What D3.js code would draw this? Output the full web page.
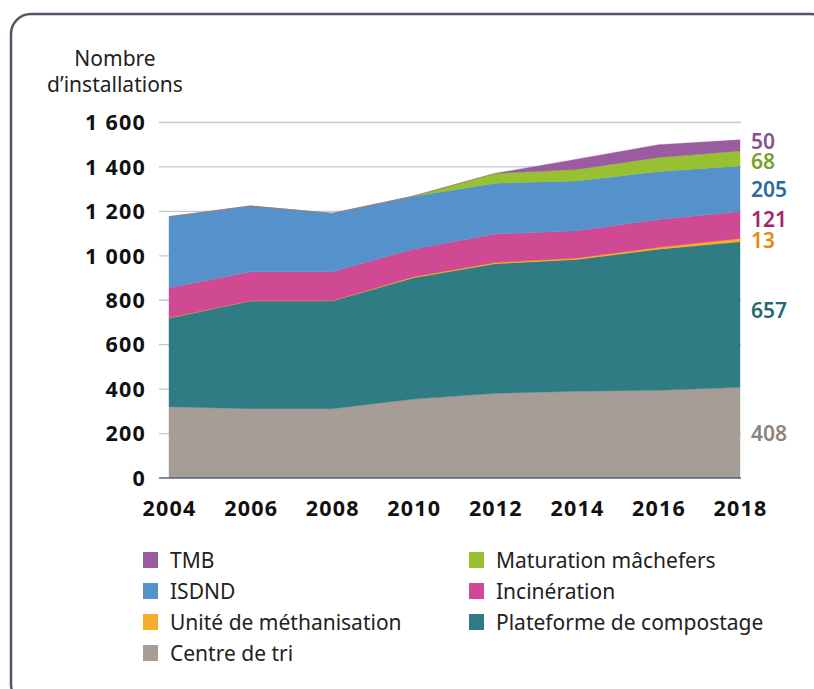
<!DOCTYPE html>
<html><head><meta charset="utf-8">
<script src="https://cdn.jsdelivr.net/npm/d3@7"></script>
<style>
body{margin:0;background:#fff;}
svg{display:block;font-family:"Noto Sans",sans-serif;}
</style></head>
<body><svg id="c" width="814" height="689"></svg>
<script>
const years = [2004, 2006, 2008, 2010, 2012, 2014, 2016, 2018];
const centreDeTri   = [321, 312, 312, 355, 381, 391, 395, 408];
const compostage    = [400, 486, 486, 548, 585, 594, 636, 657];
const methanisation = [0, 0, 0, 3, 4, 5, 7, 13];
const incineration  = [135, 130, 130, 125, 128, 123, 125, 121];
const isdnd         = [320, 296, 263, 237, 229, 224, 217, 205];
const maturation    = [0, 0, 0, 1, 44, 52, 63, 68];
const tmb           = [0, 0, 0, 0, 0, 46, 57, 50];
const yTicks = [0, 200, 400, 600, 800, 1000, 1200, 1400, 1600];
const yTickLabels = ["0", "200", "400", "600", "800", "1 000", "1 200", "1 400", "1 600"];

const series = [
  {key:"centre", name:"Centre de tri", values:centreDeTri, color:"#a69d97", label:"#8c847e"},
  {key:"compost", name:"Plateforme de compostage", values:compostage, color:"#2f7c84", label:"#1f6a70"},
  {key:"metha", name:"Unité de méthanisation", values:methanisation, color:"#f6ab2a", label:"#e8890f"},
  {key:"incin", name:"Incinération", values:incineration, color:"#cf4a93", label:"#a3256a"},
  {key:"isdnd", name:"ISDND", values:isdnd, color:"#5592cc", label:"#2a6aa0"},
  {key:"matur", name:"Maturation mâchefers", values:maturation, color:"#97c130", label:"#77a02a"},
  {key:"tmb", name:"TMB", values:tmb, color:"#9a5ba0", label:"#8e4e91"}
];

const rows = years.map((y,i)=>{const o={year:y}; series.forEach(s=>o[s.key]=s.values[i]); return o;});
const svg = d3.select("#c");

// frame
svg.append("rect").attr("x",11).attr("y",14).attr("width",820).attr("height",690)
  .attr("rx",20).attr("fill","none").attr("stroke","#4f5868").attr("stroke-width",2.5);

const x = d3.scaleLinear().domain([2004,2018]).range([169,740]);
const y = d3.scaleLinear().domain([0,1600]).range([478,122.5]);

// gridlines
svg.append("g").selectAll("line").data(yTicks.filter(d=>d>0)).join("line")
  .attr("x1",159).attr("x2",741).attr("y1",d=>y(d)).attr("y2",d=>y(d))
  .attr("stroke","#c3c8d2").attr("stroke-width",1.3);

const stack = d3.stack().keys(series.map(s=>s.key));
const stacked = stack(rows);
const area = d3.area().x(d=>x(d.data.year)).y0(d=>y(d[0])).y1(d=>y(d[1]));
svg.append("g").selectAll("path").data(stacked).join("path")
  .attr("d",area).attr("fill",(d,i)=>series[i].color)
  .attr("stroke",(d,i)=>series[i].color).attr("stroke-width",(d,i)=>series[i].key==="metha"?1.2:0.4)
  .attr("stroke-linejoin","round");

// baseline
svg.append("line").attr("x1",159).attr("x2",741).attr("y1",y(0)).attr("y2",y(0))
  .attr("stroke","#5b6579").attr("stroke-width",1.5);

// y tick labels
const yl = svg.append("g").selectAll("text").data(yTicks).join("text")
  .attr("x",146).attr("y",d=>y(d)).attr("dy","0.36em").attr("text-anchor","end")
  .attr("font-size",21.5).attr("font-weight",700).attr("letter-spacing",1.2).attr("fill","#111");
yl.each(function(d,i){
  const parts = yTickLabels[i].split(" ");
  const t = d3.select(this);
  parts.forEach((p,j)=>{
    t.append("tspan").attr("dx", j>0?7:null).text(p);
  });
});

// x tick labels
svg.append("g").selectAll("text").data(years).join("text")
  .attr("x",d=>x(d)+0.6).attr("y",508).attr("dy","0.36em").attr("text-anchor","middle")
  .attr("font-size",21.5).attr("font-weight",700).attr("letter-spacing",1.2).attr("fill","#111")
  .text(d=>d);

// y title
svg.append("text").attr("x",115).attr("y",66).attr("text-anchor","middle")
  .attr("font-size",21).attr("fill","#222").text("Nombre");
svg.append("text").attr("x",115).attr("y",92).attr("text-anchor","middle")
  .attr("font-size",21).attr("fill","#222").text("d’installations");

// right value labels
const rightY = {tmb:141, matur:161, isdnd:189, incin:219.5, metha:240.5, compost:310.5, centre:433.5};
svg.append("g").selectAll("text").data(series).join("text")
  .attr("x",751).attr("y",s=>rightY[s.key]).attr("dy","0.36em")
  .attr("font-size",21).attr("font-weight",600).attr("fill",s=>s.label)
  .text(s=>s.values[s.values.length-1]);

// legend
const legendOrder = [
  ["tmb",0,0],["matur",1,0],["isdnd",0,1],["incin",1,1],["metha",0,2],["compost",1,2],["centre",0,3]
];
const lg = svg.append("g");
legendOrder.forEach(([k,col,row])=>{
  const s = series.find(d=>d.key===k);
  const lx = col===0?143:469, ly = 560 + row*31;
  lg.append("rect").attr("x",lx).attr("y",ly-8).attr("width",15).attr("height",16).attr("fill",s.color);
  lg.append("text").attr("x",lx+27).attr("y",ly).attr("dy","0.36em")
    .attr("font-size",21).attr("fill","#222").text(s.name);
});
</script></body></html>
